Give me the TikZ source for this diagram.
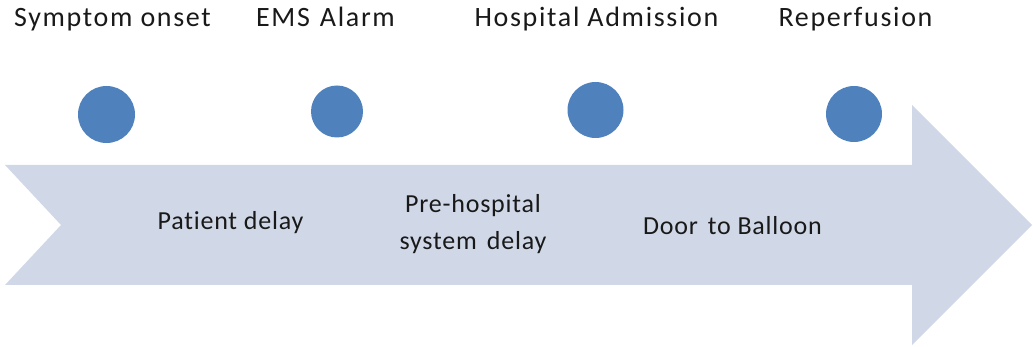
\documentclass[tikz,border=0pt]{standalone}
\usepackage{fontspec}
\setmainfont[Ligatures=NoCommon]{Carlito}
\definecolor{arrowfill}{RGB}{208,216,232}
\definecolor{dotblue}{RGB}{79,129,189}
\definecolor{txt}{RGB}{25,25,25}
\begin{document}
\begin{tikzpicture}[x=1pt,y=-1pt,
  dot/.style={circle,fill=dotblue,inner sep=0pt,minimum size=#1},
  toplabel/.style={anchor=base,text=txt,inner sep=0pt,font=\fontsize{28}{30}\selectfont\addfontfeature{LetterSpace=6}},
  botlabel/.style={anchor=base,text=txt,inner sep=0pt,align=center,font=\fontsize{26}{37}\selectfont\addfontfeature{LetterSpace=3}}]
\useasboundingbox (0,0) rectangle (1033,347);
\fill[arrowfill] (5,165) -- (912,165) -- (912,105) -- (1032,225) -- (912,345) -- (912,285) -- (5,285) -- (61,225) -- cycle;
\node[dot=57pt] (d1) at (106.5,114.5) {};
\node[dot=52pt] (d2) at (337,111.5) {};
\node[dot=56pt] (d3) at (595.5,110) {};
\node[dot=56pt] (d4) at (854,114) {};
\node[toplabel] (t1) at (112.5,27) {Symptom onset};
\node[toplabel] (t2) at (325.5,27) {EMS\hspace{10pt}Alarm};
\node[toplabel] (t3) at (596.5,27) {Hospital Admission};
\node[toplabel] (t4) at (855.5,27) {Reperfusion};
\node[botlabel] (b1) at (230.5,230) {Patient delay};
\node[botlabel] (b2a) at (473,213) {Pre-hospital};
\node[botlabel] (b2b) at (473,250) {system\hspace{10pt}delay};
\node[botlabel] (b3) at (732.5,235) {Door\hspace{10pt}to Balloon};
\end{tikzpicture}
\end{document}
